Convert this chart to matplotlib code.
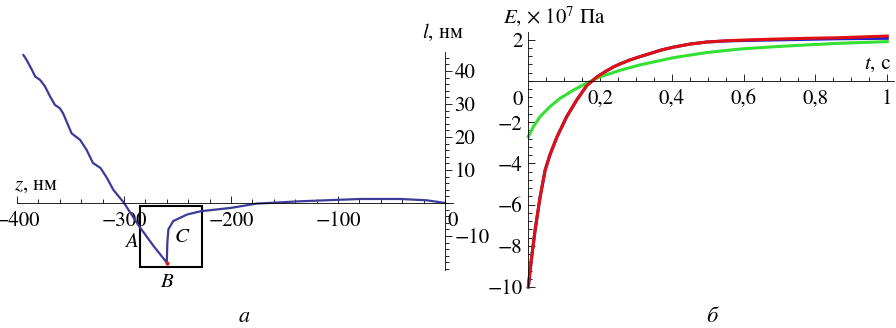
import numpy as np
import matplotlib.pyplot as plt
from matplotlib.patches import Rectangle
from matplotlib.ticker import FixedLocator

plt.rcParams['font.family'] = ['STIXGeneral', 'Liberation Serif', 'DejaVu Serif']
plt.rcParams['mathtext.fontset'] = 'stix'

# Dati (a): l(z), нм
z_vals = np.array([-394, -391, -386, -383, -378.5, -374, -369, -364.5, -360, -357,
                   -349, -341, -335, -329, -322, -316, -310, -300, -286, -272.5, -260,
                   -259.5, -258.5, -254, -241, -228, -200, -176, -135.5, -79, -42, -17, 0])
l_vals = np.array([44.8, 43.3, 40.3, 38.3, 37.3, 35.4, 32.2, 29.7, 28.7, 27.2,
                   21.1, 19.1, 16.1, 12.1, 10.6, 7.6, 4.0, 0.0, -7.0, -13.0, -18.1,
                   -12.0, -8.0, -5.5, -3.5, -2.5, -1.5, -0.2, 0.5, 1.2, 1.2, 0.8, 0.0])

# Dati (б): E(t), x 10^7 Па
t_red = np.array([0, 0.009, 0.019, 0.033, 0.047, 0.06, 0.079, 0.107, 0.135, 0.163,
                  0.19, 0.215, 0.237, 0.256, 0.283, 0.311, 0.339, 0.37, 0.404, 0.45,
                  0.497, 0.55, 0.59, 0.683, 0.776, 0.869, 1.0])
e_red = np.array([-10, -8.6, -7.23, -5.62, -4.32, -3.6, -2.75, -1.73, -0.92, -0.22,
                  0.18, 0.46, 0.68, 0.83, 1.02, 1.18, 1.33, 1.5, 1.64, 1.79,
                  1.89, 1.95, 1.98, 2.03, 2.07, 2.1, 2.18])
t_blue = t_red.copy()
e_blue = np.array([-10, -8.6, -7.23, -5.62, -4.32, -3.6, -2.75, -1.73, -0.92, -0.22,
                   0.18, 0.46, 0.68, 0.83, 1.02, 1.18, 1.33, 1.5, 1.64, 1.79,
                   1.89, 1.94, 1.96, 1.99, 2.02, 2.05, 2.07])
t_green = np.array([0, 0.014, 0.033, 0.06, 0.088, 0.125, 0.163, 0.2, 0.256, 0.311,
                    0.404, 0.497, 0.59, 0.683, 0.776, 0.869, 1.0])
e_green = np.array([-2.7, -2.22, -1.73, -1.25, -0.85, -0.45, -0.1, 0.2, 0.52, 0.78,
                    1.13, 1.38, 1.55, 1.66, 1.75, 1.83, 1.91])

fig = plt.figure(figsize=(8.96, 3.28), dpi=100)

# pannello a
ax1 = fig.add_axes([0, 0, 470/896, 1])
ax1.set_xlim(-415.9, 23.4)
ax1.set_ylim(-37.9, 61.5)
ax1.plot(z_vals, l_vals, color='#3c3c98', lw=1.6, solid_joinstyle='round')
ax1.plot([-260], [-18.1], 'o', color='#d02020', ms=2)
ax1.add_patch(Rectangle((-285, -19.5), 57.6, 18.7, fill=False, ec='black', lw=1.5))

for s in ['top', 'left']:
    ax1.spines[s].set_visible(False)
ax1.spines['bottom'].set_position(('data', 0))
ax1.spines['right'].set_position(('data', 0))
ax1.spines['bottom'].set_bounds(-400, 7.5)
ax1.spines['right'].set_bounds(-20.3, 45.7)
ax1.spines['bottom'].set_linewidth(0.6)
ax1.spines['right'].set_linewidth(0.6)
ax1.yaxis.tick_right()
ax1.set_xticks([-400, -300, -200, -100])
ax1.set_xticklabels(['\u2212400', '\u2212300', '\u2212200', '\u2212100'])
ax1.xaxis.set_minor_locator(FixedLocator(np.arange(-400, 1, 20)))
ax1.set_yticks([-10, 10, 20, 30, 40])
ax1.set_yticklabels(['\u221210', '10', '20', '30', '40'])
ax1.yaxis.set_minor_locator(FixedLocator(np.arange(-20, 45, 2)))
ax1.tick_params(axis='x', which='both', direction='in', labelsize=15, pad=6, width=0.6)
ax1.tick_params(axis='x', which='major', length=5)
ax1.tick_params(axis='x', which='minor', length=3)
ax1.tick_params(axis='y', which='both', direction='out', labelsize=15, pad=2, width=0.6)
ax1.tick_params(axis='y', which='major', length=5)
ax1.tick_params(axis='y', which='minor', length=3)
ax1.patch.set_visible(False)

ax1.text(2.5, -2.5, '0', fontsize=15, ha='left', va='top')
ax1.text(-21, 48.5, r'$l$, нм', fontsize=15, ha='left', va='bottom')
ax1.text(-403, 2.5, r'$z$, нм', fontsize=15, ha='left', va='bottom')
ax1.text(-286, -12, r'$A$', fontsize=15, ha='right', va='center')
ax1.text(-253, -10.5, r'$C$', fontsize=15, ha='left', va='center')
ax1.text(-260, -21, r'$B$', fontsize=15, ha='center', va='top')
ax1.text(-188, -34.5, r'$a$', fontsize=16, ha='center', va='center')

# pannello б
ax2 = fig.add_axes([490/896, 0, 406/896, 1])
ax2.set_xlim(-0.1067, 1.0243)
ax2.set_ylim(-11.99, 3.93)
ax2.plot(t_blue, e_blue, color='#2020d0', lw=2.2)
ax2.plot(t_green, e_green, color='#33e033', lw=2.2)
ax2.plot(t_red, e_red, color='#e01010', lw=2.2)

for s in ['top', 'right']:
    ax2.spines[s].set_visible(False)
ax2.spines['bottom'].set_position(('data', 0))
ax2.spines['left'].set_position(('data', 0))
ax2.spines['bottom'].set_bounds(0, 1.02)
ax2.spines['left'].set_bounds(-10, 2.38)
ax2.spines['bottom'].set_linewidth(0.6)
ax2.spines['left'].set_linewidth(0.6)
ax2.set_xticks([0.2, 0.4, 0.6, 0.8, 1.0])
ax2.set_xticklabels(['0,2', '0,4', '0,6', '0,8', '1'])
ax2.xaxis.set_minor_locator(FixedLocator(np.arange(0.05, 1.01, 0.05)))
ax2.set_yticks([2, -2, -4, -6, -8, -10])
ax2.set_yticklabels(['2', '\u22122', '\u22124', '\u22126', '\u22128', '\u221210'])
ax2.yaxis.set_minor_locator(FixedLocator(np.arange(-10, 2.3, 0.4)))
ax2.tick_params(which='both', direction='in', labelsize=15, width=0.6)
ax2.tick_params(which='major', length=5)
ax2.tick_params(which='minor', length=3)
ax2.tick_params(axis='x', pad=6)
ax2.tick_params(axis='y', pad=4)
ax2.patch.set_visible(False)

ax2.text(-0.015, -0.45, '0', fontsize=15, ha='right', va='top')
ax2.text(-0.07, 3.15, r'$E$, × 10$^7$ Па', fontsize=15, ha='left', va='center')
ax2.text(0.935, 0.35, r'$t$, с', fontsize=15, ha='left', va='bottom')
ax2.text(0.51, -11.45, 'б', fontsize=16, ha='center', va='center', style='italic')

fig.savefig('out.png', dpi=100)
